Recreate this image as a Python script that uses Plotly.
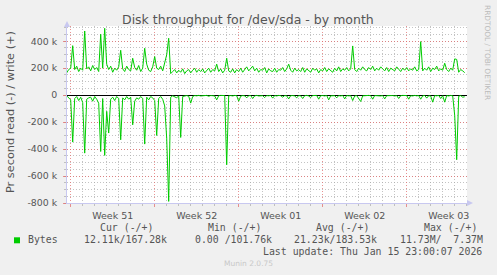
import plotly.graph_objects as go
import pandas as pd

# ---- data (kB/s), one sample every 4 hours starting 2025-12-13 16:00 ----
write_k = [
    165, 190,
    200, 367, 190, 215, 175, 200,
    185, 476, 195, 210, 180, 220,
    190, 205, 175, 452, 200, 496,
    230, 190, 215, 170, 200, 185,
    210, 333, 195, 175, 215, 190,
    180, 274, 205, 185, 220, 175,
    200, 348, 230, 185, 175, 210,
    286, 200, 190, 215, 180, 250,
    300, 422, 160, 175, 190, 165,
    185, 170, 195, 160, 180, 190,
    165, 185, 200, 170, 190, 175,
    195, 165, 185, 200, 170, 190,
    180, 230, 175, 195, 165, 185,
    274, 180, 170, 195, 165, 190,
    175, 200, 170, 190, 210, 180,
    195, 215, 180, 200, 170, 190,
    185, 205, 165, 195, 180, 175,
    200, 170, 190, 185, 205, 175,
    195, 230, 185, 170, 200, 180,
    190, 175, 205, 170, 195, 185,
    170, 200, 185, 195, 165, 190,
    180, 205, 175, 195, 185, 170,
    200, 180, 210, 175, 195, 185,
    205, 180, 195, 365, 190, 175,
    200, 185, 210, 190, 180, 205,
    190, 215, 180, 200, 185, 210,
    195, 180, 205, 175, 200, 190,
    180, 210, 190, 175, 200, 185,
    205, 180, 195, 185, 210, 180,
    190, 397, 180, 200, 185, 210,
    175, 200, 190, 215, 180, 195,
    185, 237, 190, 175, 200, 185,
    269, 265, 170, 190, 180, 167,
]
read_k = [
    5, 20,
    35, 348, 25, 10, 40, 15,
    55, 430, 30, 20, 15, 45,
    10, 30, 60, 418, 25, 447,
    120, 281, 30, 15, 40, 10,
    25, 331, 20, 35, 10, 30,
    15, 220, 45, 20, 30, 10,
    25, 363, 15, 35, 10, 20,
    40, 299, 25, 10, 30, 80,
    319, 788, 15, 5, 10, 20,
    5, 314, 10, 5, 3, 8,
    59, 10, 3, 5, 2, 6,
    3, 5, 2, 8, 3, 4,
    6, 35, 4, 2, 5, 3,
    516, 5, 3, 6, 2, 4,
    45, 8, 3, 5, 20, 4,
    3, 25, 5, 2, 6, 3,
    4, 18, 3, 5, 2, 22,
    3, 6, 2, 4, 15, 3,
    5, 28, 4, 3, 6, 20,
    3, 5, 25, 4, 2, 6,
    18, 3, 5, 2, 30, 4,
    3, 6, 2, 35, 5, 3,
    4, 20, 3, 6, 2, 28,
    3, 5, 4, 40, 6, 3,
    25, 47, 5, 3, 6, 2,
    4, 30, 3, 5, 2, 6,
    3, 28, 4, 2, 5, 3,
    6, 3, 25, 4, 2, 5,
    3, 30, 4, 6, 2, 5,
    3, 30, 5, 2, 22, 4,
    6, 52, 3, 5, 2, 25,
    4, 52, 3, 6, 2, 5,
    150, 479, 8, 3, 15, 12,
]
week_labels = ["Week 51", "Week 52", "Week 01", "Week 02", "Week 03"]
week_mid = ["2025-12-17 12:00", "2025-12-24 12:00", "2025-12-31 12:00",
            "2026-01-07 12:00", "2026-01-14 12:00"]
y_tickvals = [-800000, -600000, -400000, -200000, 0, 200000, 400000]
y_ticktext = ["-800 k", "-600 k", "-400 k", "-200 k", "0", "200 k", "400 k"]
legend_headers = ["Cur (-/+)", "Min (-/+)", "Avg (-/+)", "Max (-/+)"]
legend_values = ["12.11k/167.28k", "0.00 /101.76k", "21.23k/183.53k", "11.73M/\u00a0\u00a07.37M"]

times = pd.date_range("2025-12-13 16:00", periods=len(write_k), freq="4h")
x_range = ["2025-12-13 16:36", "2026-01-16 00:36"]

W, H = 497, 275
L, R, T, B = 67, 30, 26, 72
PW, PH = W - L - R, H - T - B

def px(x):
    return (x - L) / PW

def py(y):
    return (H - B - y) / PH

GREEN = "#00CC00"
TXT = "#555555"
RED_GRID = "rgba(225,110,110,0.75)"
GRAY_GRID = "rgba(170,170,170,0.7)"
AXIS = "#C8C8F0"

fig = go.Figure()
fig.add_trace(go.Scatter(x=times, y=[v * 1000 for v in write_k], mode="lines",
                         line=dict(color=GREEN, width=1), showlegend=False, hoverinfo="skip"))
fig.add_trace(go.Scatter(x=times, y=[-v * 1000 for v in read_k], mode="lines",
                         line=dict(color=GREEN, width=1), showlegend=False, hoverinfo="skip"))
fig.add_trace(go.Scatter(x=[times[0]], y=[0], xaxis="x2", mode="markers",
                         marker=dict(opacity=0), showlegend=False, hoverinfo="skip"))

fig.update_layout(
    width=W, height=H,
    margin=dict(l=L, r=R, t=T, b=B),
    paper_bgcolor="#F0F0F0", plot_bgcolor="#FFFFFF",
    font=dict(family="DejaVu Sans", color=TXT, size=9.5),
    xaxis=dict(
        type="date", range=x_range,
        tickmode="linear", tick0="2025-12-14", dtick=7 * 86400000,
        showticklabels=False,
        showgrid=True, gridcolor=RED_GRID, griddash="1px,2px", gridwidth=1,
        ticks="outside", ticklen=3, tickcolor=RED_GRID,
        minor=dict(tick0="2025-12-14", dtick=86400000, showgrid=True,
                   gridcolor=GRAY_GRID, griddash="1px,2px",
                   ticks="outside", ticklen=2, tickcolor=GRAY_GRID),
        showline=True, linecolor=AXIS, linewidth=1,
        zeroline=False, fixedrange=True,
    ),
    xaxis2=dict(
        type="date", range=x_range, overlaying="x", anchor="y", side="bottom",
        tickmode="array", tickvals=week_mid, ticktext=week_labels,
        showgrid=False, ticks="", showline=False, zeroline=False,
        tickfont=dict(size=9.5, color=TXT), ticklabelstandoff=5,
    ),
    yaxis=dict(
        range=[-800000, 513000],
        tickmode="array", tickvals=y_tickvals, ticktext=y_ticktext,
        tickfont=dict(size=9.4, color=TXT),
        showgrid=True, gridcolor=RED_GRID, griddash="1px,2px",
        ticks="outside", ticklen=3, tickcolor=RED_GRID, ticklabelstandoff=4,
        minor=dict(tick0=0, dtick=50000, showgrid=True, gridcolor=GRAY_GRID,
                   griddash="1px,2px", ticks="outside", ticklen=2, tickcolor=GRAY_GRID),
        zeroline=True, zerolinecolor="#000000", zerolinewidth=1,
        showline=True, linecolor=AXIS, linewidth=1,
    ),
)

ann = []
ann.append(dict(text="Disk throughput for /dev/sda - by month", x=px(248), y=py(19),
                xanchor="center", yanchor="middle", font=dict(size=12.5, color=TXT)))
ann.append(dict(text="Pr second read (-) / write (+)", x=px(10), y=py(112), textangle=-90,
                xanchor="center", yanchor="middle", font=dict(size=11.3, color=TXT)))
ann.append(dict(text="RRDTOOL / TOBI OETIKER", x=px(488), y=py(52), textangle=90,
                xanchor="center", yanchor="middle", font=dict(size=7.4, color="#BBBBBB")))
mono = "DejaVu Sans Mono"
for text, xl in zip(legend_headers, [98.7, 206.7, 315, 422.7]):
    ann.append(dict(text=text, x=px(xl), y=py(227.5), xanchor="left", yanchor="middle",
                    font=dict(family=mono, size=9.85, color=TXT)))
ann.append(dict(text="Bytes", x=px(26.7), y=py(239.7), xanchor="left", yanchor="middle",
                font=dict(family=mono, size=9.85, color=TXT)))
for text, xl in zip(legend_values, [83.3, 194.3, 293.3, 399]):
    ann.append(dict(text=text, x=px(xl), y=py(239.7), xanchor="left", yanchor="middle",
                    font=dict(family=mono, size=9.85, color=TXT)))
ann.append(dict(text="Last update: Thu Jan 15 23:00:07 2026", x=px(482.7), y=py(251.7),
                xanchor="right", yanchor="middle", font=dict(family=mono, size=9.85, color=TXT)))
ann.append(dict(text="Munin 2.0.75", x=px(248), y=py(263.7), xanchor="center", yanchor="middle",
                font=dict(size=7.5, color="#C8C8C8")))
for a in ann:
    a.update(xref="paper", yref="paper", showarrow=False, borderpad=0)
fig.update_layout(annotations=ann)

shapes = [
    # legend colour box
    dict(type="rect", xref="paper", yref="paper", x0=px(14), x1=px(20), y0=py(243.3), y1=py(237.3),
         fillcolor=GREEN, line=dict(width=0)),
    # axis arrows
    dict(type="path", xref="paper", yref="paper",
         path=f"M {px(64)} {py(27)} L {px(70)} {py(27)} L {px(67)} {py(21)} Z",
         fillcolor=AXIS, line=dict(width=0)),
    dict(type="path", xref="paper", yref="paper",
         path=f"M {px(467)} {py(200)} L {px(467)} {py(206)} L {px(473)} {py(203)} Z",
         fillcolor=AXIS, line=dict(width=0)),
]
fig.update_layout(shapes=shapes)

fig.write_html("out.html")
